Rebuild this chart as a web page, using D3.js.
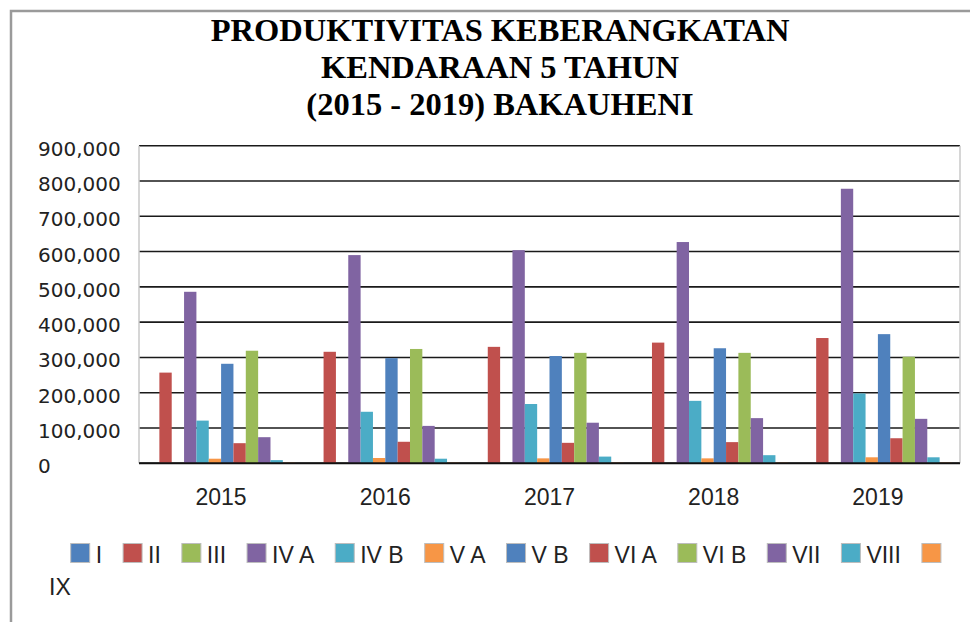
<!DOCTYPE html>
<meta charset="utf-8">
<style>
body { margin: 0; background: #fff; }
.title { font-family: "Liberation Serif", "Times New Roman", serif; font-weight: bold; font-size: 32.5px; }
.ytick { font-family: "DejaVu Sans", Verdana, sans-serif; font-size: 20px; fill: #222; }
.xtick, .legend text { font-family: "Liberation Sans", Arial, sans-serif; font-size: 23px; fill: #222; }
.grid line { stroke: #1a1a1a; stroke-width: 1.6px; }
</style>
<svg width="970" height="622"></svg>
<script src="https://d3js.org/d3.v7.min.js"></script>
<script>

var years = ["2015", "2016", "2017", "2018", "2019"];
var series = ["I", "II", "III", "IV A", "IV B", "V A", "V B", "VI A", "VI B", "VII", "VIII", "IX"];
var colors = ["#4F81BD", "#C0504D", "#9BBB59", "#8064A2", "#4BACC6", "#F79646",
              "#4F81BD", "#C0504D", "#9BBB59", "#8064A2", "#4BACC6", "#F79646"];
var yTicks = [0, 100000, 200000, 300000, 400000, 500000, 600000, 700000, 800000, 900000];

// values per year, in the order of series above
var v2015 = [0, 257000, 0, 486000, 121000, 13000, 282000, 57000, 319000, 74000, 9000, 2000];
var v2016 = [0, 316000, 0, 590000, 146000, 15000, 298000, 61000, 324000, 106000, 13000, 2000];
var v2017 = [0, 330000, 0, 604000, 168000, 14000, 304000, 58000, 313000, 115000, 19000, 2000];
var v2018 = [0, 342000, 0, 627000, 177000, 14000, 326000, 60000, 313000, 128000, 23000, 2000];
var v2019 = [0, 355000, 0, 778000, 198000, 17000, 366000, 71000, 302000, 126000, 17000, 2000];
var values = [v2015, v2016, v2017, v2018, v2019];

var svg = d3.select("svg");

// outer frame (only top and left edges are visible)
svg.append("path")
    .attr("d", "M11,622V11H970")
    .attr("fill", "none")
    .attr("stroke", "#9a9a9a")
    .attr("stroke-width", 2.5);

var title = ["PRODUKTIVITAS KEBERANGKATAN", "KENDARAAN 5 TAHUN", "(2015 - 2019) BAKAUHENI"];
svg.selectAll(".title").data(title).enter().append("text")
    .attr("class", "title")
    .attr("x", 500)
    .attr("y", function(d, i) { return 41 + i * 37; })
    .attr("text-anchor", "middle")
    .text(function(d) { return d; });

var plotL = 139, plotR = 960, plotT = 145.7, plotB = 463.3;

var x0 = d3.scaleBand().domain(years).range([plotL, plotR]);
var x1 = d3.scaleBand().domain(series).range([0, x0.bandwidth()]).paddingOuter(0.65);
var y = d3.scaleLinear().domain([0, 900000]).range([plotB, plotT]);

// gridlines
svg.append("g")
    .attr("class", "grid")
  .selectAll("line")
  .data(yTicks)
  .enter().append("line")
    .attr("x1", plotL)
    .attr("x2", plotR)
    .attr("y1", function(d) { return y(d); })
    .attr("y2", function(d) { return y(d); });

// plot area side borders
svg.append("line").attr("x1", plotL).attr("x2", plotL).attr("y1", plotT).attr("y2", plotB)
    .attr("stroke", "#c8c8c8").attr("stroke-width", 1.5);
svg.append("line").attr("x1", plotR).attr("x2", plotR).attr("y1", plotT).attr("y2", plotB)
    .attr("stroke", "#c8c8c8").attr("stroke-width", 1.5);

// y labels, left aligned like the original
svg.selectAll(".ytick").data(yTicks).enter().append("text")
    .attr("class", "ytick")
    .attr("x", 38)
    .attr("y", function(d) { return y(d) + 10; })
    .text(function(d) { return d3.format(",")(d); });

// bars
var groups = svg.append("g").selectAll("g")
  .data(values)
  .enter().append("g")
    .attr("transform", function(d, i) { return "translate(" + x0(years[i]) + ",0)"; });

groups.selectAll("rect")
  .data(function(d) { return d.map(function(v, j) { return { key: series[j], value: v, c: colors[j] }; }); })
  .enter().append("rect")
    .attr("x", function(d) { return x1(d.key); })
    .attr("width", x1.bandwidth())
    .attr("y", function(d) { return y(d.value); })
    .attr("height", function(d) { return plotB - y(d.value); })
    .attr("fill", function(d) { return d.c; });

// baseline
svg.append("line").attr("x1", plotL).attr("x2", plotR).attr("y1", plotB).attr("y2", plotB)
    .attr("stroke", "#111").attr("stroke-width", 2);

// x labels
svg.selectAll(".xtick").data(years).enter().append("text")
    .attr("class", "xtick")
    .attr("x", function(d) { return x0(d) + x0.bandwidth() / 2; })
    .attr("y", 505)
    .attr("text-anchor", "middle")
    .text(function(d) { return d; });

// legend, flowing left to right; label wraps to a new line if it runs past the edge
var legend = svg.append("g").attr("class", "legend");
var lx = 70.7, ly = 563;
series.forEach(function(s, i) {
  legend.append("rect")
      .attr("x", lx).attr("y", ly - 19.5)
      .attr("width", 19).attr("height", 19)
      .attr("fill", colors[i])
      .attr("stroke", "#bdbdbd").attr("stroke-width", 1);
  var t = legend.append("text").text(s);
  var w = t.node().getComputedTextLength();
  if (lx + 25 + w > plotR) {
    t.attr("x", 49).attr("y", ly + 32);
  } else {
    t.attr("x", lx + 25).attr("y", ly);
  }
  lx += 25 + w + 21;
});

</script>
